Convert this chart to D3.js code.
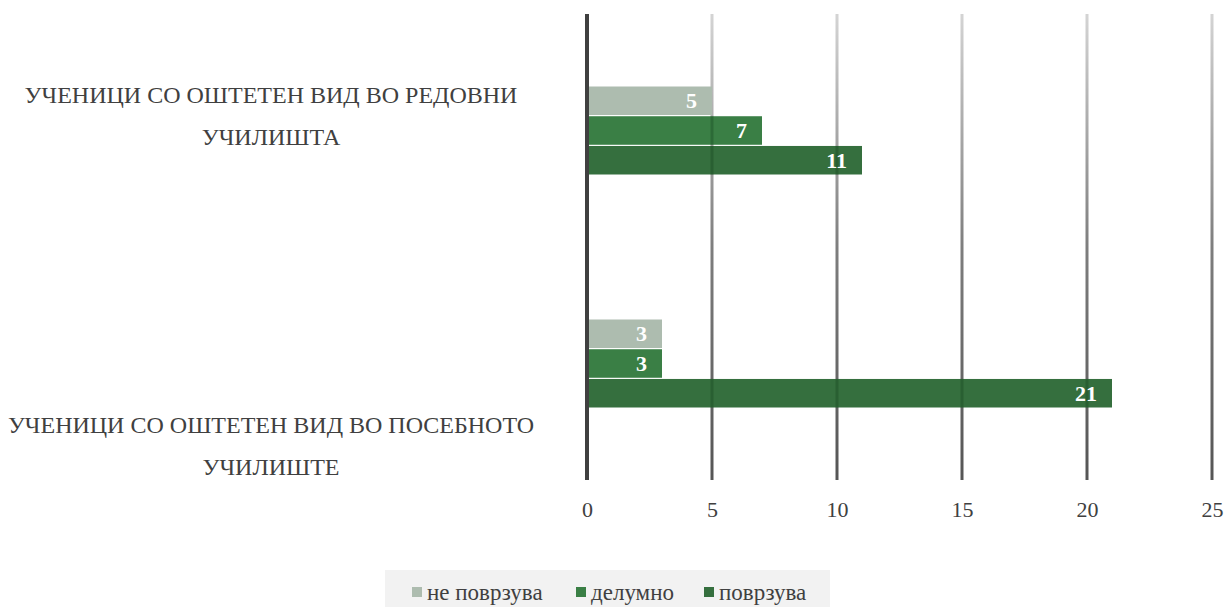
<!DOCTYPE html>
<html>
<head>
<meta charset="utf-8">
<script src="https://cdn.jsdelivr.net/npm/d3@7"></script>
</head>
<body style="margin:0">
<svg id="chart" width="1227" height="607" font-family="Liberation Serif" style="display:block"></svg>
<script>
// Categories (each label split into the two lines it is shown on)
const categories = ["редовни", "посебно"];
const categoryLines = [
  ["УЧЕНИЦИ СО ОШТЕТЕН ВИД ВО РЕДОВНИ", "УЧИЛИШТА"],
  ["УЧЕНИЦИ СО ОШТЕТЕН ВИД ВО ПОСЕБНОТО", "УЧИЛИШТЕ"]
];
const seriesNames = ["не поврзува", "делумно", "поврзува"];
const notConnected = [5, 3];
const partly = [7, 3];
const connected = [11, 21];
const xTicks = [0, 5, 10, 15, 20, 25];

const seriesValues = [notConnected, partly, connected];
const colors = ["#adbcaf", "#3a7f45", "#356f3e"];
const FONT = "Liberation Serif";

const svg = d3.select("#chart");
const plot = { left: 587, right: 1212, top: 14, bottom: 480 };

const x = d3.scaleLinear().domain([0, 25]).range([plot.left, plot.right]);
const y = d3.scaleBand().domain(categories).range([plot.top, plot.bottom]).padding(0);
const barGroupH = 88;
const ySub = d3.scaleBand().domain(seriesNames).range([0, barGroupH]).paddingInner(0.04);

// Gridline gradient: light at the top, darker towards the bottom
const defs = svg.append("defs");
const grad = defs.append("linearGradient")
  .attr("id", "gridGrad")
  .attr("x1", 0).attr("y1", 0).attr("x2", 0).attr("y2", 1);
grad.append("stop").attr("offset", "0%").attr("stop-color", "#d4d4d4");
grad.append("stop").attr("offset", "50%").attr("stop-color", "#7e7e7e");
grad.append("stop").attr("offset", "100%").attr("stop-color", "#555555");

// Gridlines (drawn as thin rects so the gradient fill applies)
svg.append("g").selectAll("rect").data(xTicks.filter(t => t > 0)).join("rect")
  .attr("x", d => x(d) - 1.5)
  .attr("y", plot.top)
  .attr("width", 3)
  .attr("height", plot.bottom - plot.top)
  .attr("fill", "url(#gridGrad)");

// Bars
const rows = [];
categories.forEach((c, ci) => {
  seriesNames.forEach((s, si) => {
    rows.push({ cat: c, series: s, si, value: seriesValues[si][ci] });
  });
});
const barTop = d => y(d.cat) + y.bandwidth() / 2 - barGroupH / 2 + ySub(d.series);
const barW = d => x(d.value) - x(0) - 1;

svg.append("g").selectAll("rect").data(rows).join("rect")
  .attr("x", x(0) + 1)
  .attr("y", barTop)
  .attr("width", barW)
  .attr("height", ySub.bandwidth())
  .attr("fill", d => colors[d.si]);

// Gridlines show faintly through the bars
rows.forEach(r => {
  xTicks.filter(t => t > 0 && t < r.value).forEach(t => {
    svg.append("rect")
      .attr("x", x(t) - 1.5).attr("y", barTop(r))
      .attr("width", 3).attr("height", ySub.bandwidth())
      .attr("fill", "#0d3d16").attr("fill-opacity", 0.3);
  });
});

// Zero line
svg.append("rect")
  .attr("x", x(0) - 2).attr("y", plot.top)
  .attr("width", 4).attr("height", plot.bottom - plot.top)
  .attr("fill", "#404040");

// Value labels
svg.append("g").selectAll("text").data(rows).join("text")
  .attr("x", d => x(d.value) - 15)
  .attr("y", d => barTop(d) + ySub.bandwidth() / 2)
  .attr("dy", "0.35em")
  .attr("text-anchor", "end")
  .attr("font-family", FONT)
  .attr("font-weight", "bold")
  .attr("font-size", 22)
  .attr("fill", "#ffffff")
  .text(d => d.value);

// X tick labels
const xAxis = svg.append("g").attr("transform", `translate(0,${plot.bottom})`)
  .call(d3.axisBottom(x).tickValues(xTicks).tickSize(0).tickPadding(21));
xAxis.attr("font-family", FONT).attr("font-size", 22);
xAxis.select(".domain").remove();
xAxis.selectAll("text")
  .attr("font-family", FONT)
  .attr("font-size", 22)
  .attr("fill", "#404040");

// Category labels
const catLabelCenter = [271, 271];
const catLabelShift = [-15, 82];
const catG = svg.append("g");
categories.forEach((c, i) => {
  const cy = y(c) + y.bandwidth() / 2 + catLabelShift[i];
  const t = catG.append("text")
    .attr("text-anchor", "middle")
    .attr("font-family", FONT)
    .attr("font-size", 24)
    .attr("fill", "#404040");
  categoryLines[i].forEach((line, li) => {
    t.append("tspan")
      .attr("x", catLabelCenter[i])
      .attr("y", cy + (li - 0.5) * 42)
      .attr("dy", "0.35em")
      .text(line);
  });
});

// Legend
const legend = svg.append("g");
legend.append("rect").attr("x", 385).attr("y", 570).attr("width", 445).attr("height", 40).attr("fill", "#f2f2f2");
const legendX = [412, 576, 704];
seriesNames.forEach((s, i) => {
  legend.append("rect")
    .attr("x", legendX[i]).attr("y", 587).attr("width", 10).attr("height", 10)
    .attr("fill", colors[i]);
  legend.append("text")
    .attr("x", legendX[i] + 15).attr("y", 592).attr("dy", "0.35em")
    .attr("font-family", FONT)
    .attr("font-size", 23)
    .attr("fill", "#404040")
    .text(s);
});
</script>
</body>
</html>
